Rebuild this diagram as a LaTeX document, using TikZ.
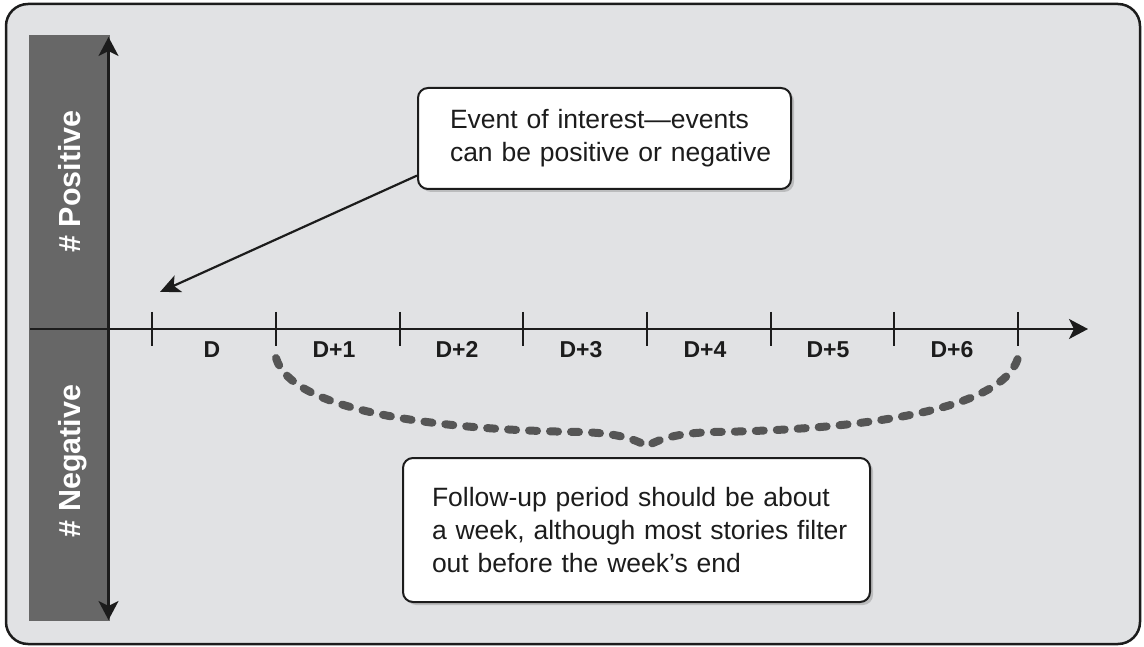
\documentclass[tikz,border=0pt]{standalone}
\usepackage{fontspec}
\setmainfont{Liberation Sans}
\usetikzlibrary{arrows.meta,calc,shadows}

\definecolor{panel}{HTML}{E1E2E4}
\definecolor{band}{HTML}{676767}
\definecolor{ink}{HTML}{1C1C1C}
\definecolor{dashink}{HTML}{555555}

\tikzset{
  axisline/.style={draw=ink, line width=2.2pt},
  tickline/.style={draw=ink, line width=1.8pt},
  bigtip/.style={-{Stealth[length=19pt,width=20pt,inset=5pt]}},
  ticklabel/.style={anchor=base, font=\fontsize{23}{26}\selectfont\bfseries, text=ink},
  bandlabel/.style={rotate=90, anchor=base, font=\fontsize{30.5}{34}\selectfont\bfseries, text=white},
  notebox/.style={draw=ink, line width=2pt, fill=white, rounded corners=10pt,
    inner ysep=0pt, align=left, text=ink,
    font=\fontsize{26.5}{33}\selectfont,
    drop shadow={shadow xshift=3pt, shadow yshift=-3pt, opacity=0.3, fill=black!60}},
  spanbrace/.style={draw=dashink, line width=8pt, line cap=round,
    dash pattern=on 8pt off 13pt}
}

\begin{document}
\begin{tikzpicture}[x=1pt, y=-1pt]
  \useasboundingbox (0,0) rectangle (1144,647);

  % panel
  \draw[fill=panel, draw=ink, line width=2.5pt, rounded corners=22pt]
    (6,4) rectangle (1140,644);

  % shaded band behind the vertical axis
  \fill[band] (29,35) rectangle (110,621);
  \node[bandlabel] (pos) at (80,181.5) {\# Positive};
  \node[bandlabel] (neg) at (80,461) {\# Negative};

  % axes
  \coordinate (vtop) at (108.5,37);
  \coordinate (vbot) at (108.5,620);
  \coordinate (hstart) at (30,329);
  \coordinate (hend) at (1088,329);
  \draw[axisline, {Stealth[length=19pt,width=20pt,inset=5pt]}-{Stealth[length=19pt,width=20pt,inset=5pt]}] (vbot) -- (vtop);
  \draw[axisline, bigtip] (hstart) -- (hend);

  % day ticks
  \foreach \i/\x in {0/152,1/276,2/399.7,3/523.3,4/647,5/770.7,6/894.3,7/1018} {
    \coordinate (t\i) at (\x,329);
    \draw[tickline] (\x,312) -- (\x,346);
  }

  % day labels
  \node[ticklabel] (d0) at (212,357) {D};
  \node[ticklabel] (d1) at (334,357) {D+1};
  \node[ticklabel] (d2) at (457,357) {D+2};
  \node[ticklabel] (d3) at (581,357) {D+3};
  \node[ticklabel] (d4) at (705,357) {D+4};
  \node[ticklabel] (d5) at (828,357) {D+5};
  \node[ticklabel] (d6) at (952,357) {D+6};

  % follow-up brace from D+1 to the end of D+6
  \draw[spanbrace] (276,358) .. controls (292,412) and (440,430) .. (580,432)
    .. controls (615,433) and (632,438) .. (647,446)
    .. controls (662,438) and (679,433) .. (714,432)
    .. controls (854,430) and (1002,412) .. (1018,358);

  % event note
  \coordinate (evtip) at (160,292);
  \node[notebox, minimum width=373pt, minimum height=101pt, text width=309pt, inner xsep=32pt]
    (event) at (604.5,138.5)
    {\mbox{Event of interest—events}\\\mbox{can be positive or negative}};
  \draw[draw=ink, line width=2.2pt, -{Stealth[length=20pt,width=18pt,inset=5pt]}]
    ($(event.south west)!0.14!(event.north west)$) -- (evtip);

  % follow-up note
  \node[notebox, minimum width=467pt, minimum height=144pt, text width=409pt, inner xsep=29pt]
    (follow) at (636.5,530)
    {\mbox{Follow-up period should be about}\\\mbox{a week, although most stories filter}\\\mbox{out before the week’s end}};
\end{tikzpicture}
\end{document}
